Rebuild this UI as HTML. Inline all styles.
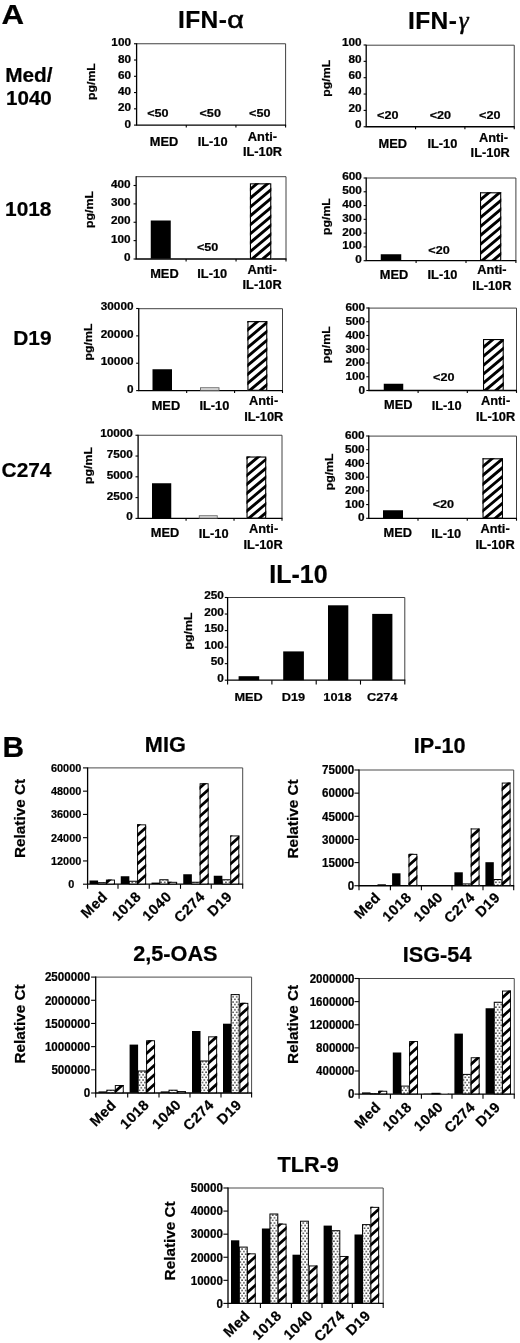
<!DOCTYPE html>
<html><head><meta charset="utf-8"><title>Figure</title>
<style>
html,body{margin:0;padding:0;background:#fff;}
body{width:520px;height:1343px;overflow:hidden;font-family:"Liberation Sans",sans-serif;}
svg{display:block;}
svg text{font-family:"Liberation Sans",sans-serif;font-weight:bold;fill:#050505;stroke:#050505;stroke-width:0.22px;}
</style></head><body>
<svg width="520" height="1343" viewBox="0 0 520 1343">
<rect width="520" height="1343" fill="#fff"/>
<g filter="url(#soft)">
<defs>
<filter id="soft" x="0" y="0" width="520" height="1343" filterUnits="userSpaceOnUse"><feGaussianBlur stdDeviation="0.38"/></filter>
<pattern id="dots" patternUnits="userSpaceOnUse" width="3.6" height="5.2"><rect width="3.6" height="5.2" fill="#fff"/><rect x="0.25" y="0.35" width="1.3" height="1.3" fill="#000"/><rect x="2.05" y="2.95" width="1.3" height="1.3" fill="#000"/></pattern>
</defs>
<text transform="translate(1.6 24.3) scale(1.14 1)" font-size="27.4" text-anchor="start" >A</text>
<text transform="translate(2.6 757.2) scale(1.03 1)" font-size="29" text-anchor="start" >B</text>
<text transform="translate(178 27.5) scale(1.0 1)" font-size="24.5" text-anchor="start" letter-spacing="0.4">IFN-</text>
<text transform="translate(227.3 27.5) scale(1.18 1)" font-size="24.5" text-anchor="start" style="font-weight:normal;stroke-width:0.55px">α</text>
<text transform="translate(408 28.9) scale(1.0 1)" font-size="24.5" text-anchor="start" letter-spacing="0.4">IFN-<tspan font-family="Liberation Serif, serif" font-weight="normal" font-style="italic" font-size="25" dx="1.4" stroke-width="0.5">γ</tspan></text>
<text transform="translate(52.6 81.5) scale(1.04 1)" font-size="20" text-anchor="end" >Med/</text>
<text transform="translate(51.8 104.7) scale(1.0 1)" font-size="20.6" text-anchor="end" >1040</text>
<text transform="translate(51.5 216) scale(1.02 1)" font-size="20.5" text-anchor="end" >1018</text>
<text transform="translate(51.5 344.8) scale(1.02 1)" font-size="20.5" text-anchor="end" >D19</text>
<text transform="translate(51.5 477) scale(1.02 1)" font-size="20.5" text-anchor="end" >C274</text>
<path d="M136.6 43.75H285.6V125.1" fill="none" stroke="#404040" stroke-width="1"/>
<path d="M136.6 43.25V125.1H286.1" fill="none" stroke="#000" stroke-width="1.3"/>
<path d="M134 125.1H136.6" stroke="#000" stroke-width="1.1"/>
<text transform="translate(131 127.68) scale(1.18 1)" font-size="10" text-anchor="end" >0</text>
<path d="M134 108.83H136.6" stroke="#000" stroke-width="1.1"/>
<text transform="translate(131 111.41) scale(1.18 1)" font-size="10" text-anchor="end" >20</text>
<path d="M134 92.56H136.6" stroke="#000" stroke-width="1.1"/>
<text transform="translate(131 95.14) scale(1.18 1)" font-size="10" text-anchor="end" >40</text>
<path d="M134 76.29H136.6" stroke="#000" stroke-width="1.1"/>
<text transform="translate(131 78.87) scale(1.18 1)" font-size="10" text-anchor="end" >60</text>
<path d="M134 60.02H136.6" stroke="#000" stroke-width="1.1"/>
<text transform="translate(131 62.6) scale(1.18 1)" font-size="10" text-anchor="end" >80</text>
<path d="M134 43.75H136.6" stroke="#000" stroke-width="1.1"/>
<text transform="translate(131 46.33) scale(1.18 1)" font-size="10" text-anchor="end" >100</text>
<path d="M186.27 125.1V127.5" stroke="#000" stroke-width="1.1"/>
<path d="M235.93 125.1V127.5" stroke="#000" stroke-width="1.1"/>
<path d="M285.6 125.1V127.5" stroke="#000" stroke-width="1.1"/>
<text transform="translate(157.9 117.4) scale(1.19 1)" font-size="10.6" text-anchor="middle" >&lt;50</text>
<text transform="translate(210.2 117.4) scale(1.19 1)" font-size="10.6" text-anchor="middle" >&lt;50</text>
<text transform="translate(259.75 117.4) scale(1.19 1)" font-size="10.6" text-anchor="middle" >&lt;50</text>
<text transform="translate(164 146.2) scale(1.07 1)" font-size="12" text-anchor="middle" >MED</text>
<text transform="translate(212.6 146.2) scale(1.07 1)" font-size="12" text-anchor="middle" >IL-10</text>
<text transform="translate(262.4 141) scale(1.07 1)" font-size="12" text-anchor="middle" >Anti-</text>
<text transform="translate(262.5 156) scale(1.07 1)" font-size="12" text-anchor="middle" >IL-10R</text>
<text transform="translate(95.3 81.6) rotate(-90) scale(1.17 1)" font-size="10.5" text-anchor="middle">pg/mL</text>
<path d="M366.2 45.2H514.25V126.75" fill="none" stroke="#404040" stroke-width="1"/>
<path d="M366.2 44.7V126.75H514.75" fill="none" stroke="#000" stroke-width="1.3"/>
<path d="M363.6 126.75H366.2" stroke="#000" stroke-width="1.1"/>
<text transform="translate(361.6 128.13) scale(1.18 1)" font-size="10" text-anchor="end" >0</text>
<path d="M363.6 110.4H366.2" stroke="#000" stroke-width="1.1"/>
<text transform="translate(361.6 111.78) scale(1.18 1)" font-size="10" text-anchor="end" >20</text>
<path d="M363.6 94.05H366.2" stroke="#000" stroke-width="1.1"/>
<text transform="translate(361.6 95.43) scale(1.18 1)" font-size="10" text-anchor="end" >40</text>
<path d="M363.6 77.7H366.2" stroke="#000" stroke-width="1.1"/>
<text transform="translate(361.6 79.08) scale(1.18 1)" font-size="10" text-anchor="end" >60</text>
<path d="M363.6 61.35H366.2" stroke="#000" stroke-width="1.1"/>
<text transform="translate(361.6 62.73) scale(1.18 1)" font-size="10" text-anchor="end" >80</text>
<path d="M363.6 45H366.2" stroke="#000" stroke-width="1.1"/>
<text transform="translate(361.6 46.38) scale(1.18 1)" font-size="10" text-anchor="end" >100</text>
<path d="M415.55 126.75V129.15" stroke="#000" stroke-width="1.1"/>
<path d="M464.9 126.75V129.15" stroke="#000" stroke-width="1.1"/>
<path d="M514.25 126.75V129.15" stroke="#000" stroke-width="1.1"/>
<text transform="translate(387.75 118.7) scale(1.19 1)" font-size="10.6" text-anchor="middle" >&lt;20</text>
<text transform="translate(440.4 118.7) scale(1.19 1)" font-size="10.6" text-anchor="middle" >&lt;20</text>
<text transform="translate(489.75 118.7) scale(1.19 1)" font-size="10.6" text-anchor="middle" >&lt;20</text>
<text transform="translate(392.75 148) scale(1.07 1)" font-size="12" text-anchor="middle" >MED</text>
<text transform="translate(442.4 148.2) scale(1.07 1)" font-size="12" text-anchor="middle" >IL-10</text>
<text transform="translate(493.5 141.9) scale(1.07 1)" font-size="12" text-anchor="middle" >Anti-</text>
<text transform="translate(490.2 157.2) scale(1.07 1)" font-size="12" text-anchor="middle" >IL-10R</text>
<text transform="translate(329.8 78.25) rotate(-90) scale(1.17 1)" font-size="10.5" text-anchor="middle">pg/mL</text>
<path d="M136.15 176.7H286V259" fill="none" stroke="#404040" stroke-width="1"/>
<path d="M136.15 176.2V259H286.5" fill="none" stroke="#000" stroke-width="1.3"/>
<path d="M133.55 259H136.15" stroke="#000" stroke-width="1.1"/>
<text transform="translate(130.65 261.18) scale(1.18 1)" font-size="10" text-anchor="end" >0</text>
<path d="M133.55 240.62H136.15" stroke="#000" stroke-width="1.1"/>
<text transform="translate(130.65 242.81) scale(1.18 1)" font-size="10" text-anchor="end" >100</text>
<path d="M133.55 222.25H136.15" stroke="#000" stroke-width="1.1"/>
<text transform="translate(130.65 224.43) scale(1.18 1)" font-size="10" text-anchor="end" >200</text>
<path d="M133.55 203.88H136.15" stroke="#000" stroke-width="1.1"/>
<text transform="translate(130.65 206.06) scale(1.18 1)" font-size="10" text-anchor="end" >300</text>
<path d="M133.55 185.5H136.15" stroke="#000" stroke-width="1.1"/>
<text transform="translate(130.65 187.68) scale(1.18 1)" font-size="10" text-anchor="end" >400</text>
<path d="M186.1 259V261.4" stroke="#000" stroke-width="1.1"/>
<path d="M236.05 259V261.4" stroke="#000" stroke-width="1.1"/>
<path d="M286 259V261.4" stroke="#000" stroke-width="1.1"/>
<rect x="150.75" y="220.5" width="20" height="38.2" fill="#000"/>
<clipPath id="c1"><rect x="249.9" y="183.3" width="21.4" height="75.4"/></clipPath>
<rect x="249.9" y="183.3" width="21.4" height="75.4" fill="#fff"/>
<path clip-path="url(#c1)" d="M248.9 261.6L272.3 241.97M248.9 252.7L272.3 233.07M248.9 243.8L272.3 224.17M248.9 234.9L272.3 215.27M248.9 226L272.3 206.37M248.9 217.1L272.3 197.47M248.9 208.2L272.3 188.57M248.9 199.3L272.3 179.67M248.9 190.4L272.3 170.77M248.9 181.5L272.3 161.87M248.9 270.5L272.3 250.87M248.9 279.4L272.3 259.77" stroke="#000" stroke-width="2.91" fill="none"/>
<rect x="250.45" y="183.85" width="20.3" height="74.85" fill="none" stroke="#000" stroke-width="1.1"/>
<text transform="translate(207.6 251) scale(1.19 1)" font-size="10.6" text-anchor="middle" >&lt;50</text>
<text transform="translate(164.4 278) scale(1.07 1)" font-size="12" text-anchor="middle" >MED</text>
<text transform="translate(212.25 278.4) scale(1.07 1)" font-size="12" text-anchor="middle" >IL-10</text>
<text transform="translate(262.1 273.5) scale(1.07 1)" font-size="12" text-anchor="middle" >Anti-</text>
<text transform="translate(262.1 289) scale(1.07 1)" font-size="12" text-anchor="middle" >IL-10R</text>
<text transform="translate(92.8 209.5) rotate(-90) scale(1.17 1)" font-size="10.5" text-anchor="middle">pg/mL</text>
<path d="M366.2 178H515.9V260.7" fill="none" stroke="#404040" stroke-width="1"/>
<path d="M366.2 177.5V260.7H516.4" fill="none" stroke="#000" stroke-width="1.3"/>
<path d="M363.6 260.7H366.2" stroke="#000" stroke-width="1.1"/>
<text transform="translate(361.9 263.08) scale(1.18 1)" font-size="10" text-anchor="end" >0</text>
<path d="M363.6 246.92H366.2" stroke="#000" stroke-width="1.1"/>
<text transform="translate(361.9 249.3) scale(1.18 1)" font-size="10" text-anchor="end" >100</text>
<path d="M363.6 233.13H366.2" stroke="#000" stroke-width="1.1"/>
<text transform="translate(361.9 235.51) scale(1.18 1)" font-size="10" text-anchor="end" >200</text>
<path d="M363.6 219.35H366.2" stroke="#000" stroke-width="1.1"/>
<text transform="translate(361.9 221.73) scale(1.18 1)" font-size="10" text-anchor="end" >300</text>
<path d="M363.6 205.57H366.2" stroke="#000" stroke-width="1.1"/>
<text transform="translate(361.9 207.95) scale(1.18 1)" font-size="10" text-anchor="end" >400</text>
<path d="M363.6 191.78H366.2" stroke="#000" stroke-width="1.1"/>
<text transform="translate(361.9 194.16) scale(1.18 1)" font-size="10" text-anchor="end" >500</text>
<path d="M363.6 178H366.2" stroke="#000" stroke-width="1.1"/>
<text transform="translate(361.9 180.38) scale(1.18 1)" font-size="10" text-anchor="end" >600</text>
<path d="M416.1 260.7V263.1" stroke="#000" stroke-width="1.1"/>
<path d="M466 260.7V263.1" stroke="#000" stroke-width="1.1"/>
<path d="M515.9 260.7V263.1" stroke="#000" stroke-width="1.1"/>
<rect x="380.75" y="254.25" width="20.5" height="6.15" fill="#000"/>
<clipPath id="c2"><rect x="480" y="192.25" width="21.25" height="68.15"/></clipPath>
<rect x="480" y="192.25" width="21.25" height="68.15" fill="#fff"/>
<path clip-path="url(#c2)" d="M479 263.3L502.25 243.79M479 254.4L502.25 234.89M479 245.5L502.25 225.99M479 236.6L502.25 217.09M479 227.7L502.25 208.19M479 218.8L502.25 199.29M479 209.9L502.25 190.39M479 201L502.25 181.49M479 192.1L502.25 172.59M479 272.2L502.25 252.69M479 281.1L502.25 261.59" stroke="#000" stroke-width="2.91" fill="none"/>
<rect x="480.55" y="192.8" width="20.15" height="67.6" fill="none" stroke="#000" stroke-width="1.1"/>
<text transform="translate(439 253.5) scale(1.19 1)" font-size="10.6" text-anchor="middle" >&lt;20</text>
<text transform="translate(394.1 278.5) scale(1.07 1)" font-size="12" text-anchor="middle" >MED</text>
<text transform="translate(442.5 279) scale(1.07 1)" font-size="12" text-anchor="middle" >IL-10</text>
<text transform="translate(491.9 274) scale(1.07 1)" font-size="12" text-anchor="middle" >Anti-</text>
<text transform="translate(491.9 289.75) scale(1.07 1)" font-size="12" text-anchor="middle" >IL-10R</text>
<text transform="translate(329.5 216.6) rotate(-90) scale(1.17 1)" font-size="10.5" text-anchor="middle">pg/mL</text>
<path d="M138.75 308.7H282.5V390.6" fill="none" stroke="#404040" stroke-width="1"/>
<path d="M138.75 308.2V390.6H283" fill="none" stroke="#000" stroke-width="1.3"/>
<path d="M136.15 390.6H138.75" stroke="#000" stroke-width="1.1"/>
<text transform="translate(133.5 392.58) scale(1.18 1)" font-size="10" text-anchor="end" >0</text>
<path d="M136.15 363.23H138.75" stroke="#000" stroke-width="1.1"/>
<text transform="translate(133.5 365.21) scale(1.18 1)" font-size="10" text-anchor="end" >10000</text>
<path d="M136.15 335.87H138.75" stroke="#000" stroke-width="1.1"/>
<text transform="translate(133.5 337.85) scale(1.18 1)" font-size="10" text-anchor="end" >20000</text>
<path d="M136.15 308.5H138.75" stroke="#000" stroke-width="1.1"/>
<text transform="translate(133.5 310.48) scale(1.18 1)" font-size="10" text-anchor="end" >30000</text>
<path d="M186.67 390.6V393" stroke="#000" stroke-width="1.1"/>
<path d="M234.58 390.6V393" stroke="#000" stroke-width="1.1"/>
<path d="M282.5 390.6V393" stroke="#000" stroke-width="1.1"/>
<rect x="152.5" y="369.25" width="19.5" height="21.05" fill="#000"/>
<rect x="200.5" y="387.75" width="18.5" height="2.55" fill="#e4e4e4" stroke="#666" stroke-width="0.9"/>
<clipPath id="c3"><rect x="247.4" y="321.1" width="19.9" height="69.2"/></clipPath>
<rect x="247.4" y="321.1" width="19.9" height="69.2" fill="#fff"/>
<path clip-path="url(#c3)" d="M246.4 393.2L268.3 374.82M246.4 384.3L268.3 365.92M246.4 375.4L268.3 357.02M246.4 366.5L268.3 348.12M246.4 357.6L268.3 339.22M246.4 348.7L268.3 330.32M246.4 339.8L268.3 321.42M246.4 330.9L268.3 312.52M246.4 322L268.3 303.62M246.4 402.1L268.3 383.72" stroke="#000" stroke-width="2.91" fill="none"/>
<rect x="247.95" y="321.65" width="18.8" height="68.65" fill="none" stroke="#000" stroke-width="1.1"/>
<text transform="translate(165.9 409.75) scale(1.07 1)" font-size="12" text-anchor="middle" >MED</text>
<text transform="translate(214.4 410) scale(1.07 1)" font-size="12" text-anchor="middle" >IL-10</text>
<text transform="translate(263.6 405.25) scale(1.07 1)" font-size="12" text-anchor="middle" >Anti-</text>
<text transform="translate(263.75 421) scale(1.07 1)" font-size="12" text-anchor="middle" >IL-10R</text>
<text transform="translate(92.3 342) rotate(-90) scale(1.17 1)" font-size="10.5" text-anchor="middle">pg/mL</text>
<path d="M368.9 308.1H516.5V390.5" fill="none" stroke="#404040" stroke-width="1"/>
<path d="M368.9 307.6V390.5H517" fill="none" stroke="#000" stroke-width="1.3"/>
<path d="M366.3 390.5H368.9" stroke="#000" stroke-width="1.1"/>
<text transform="translate(365.1 393.78) scale(1.18 1)" font-size="10" text-anchor="end" >0</text>
<path d="M366.3 376.75H368.9" stroke="#000" stroke-width="1.1"/>
<text transform="translate(365.1 380.03) scale(1.18 1)" font-size="10" text-anchor="end" >100</text>
<path d="M366.3 363H368.9" stroke="#000" stroke-width="1.1"/>
<text transform="translate(365.1 366.28) scale(1.18 1)" font-size="10" text-anchor="end" >200</text>
<path d="M366.3 349.25H368.9" stroke="#000" stroke-width="1.1"/>
<text transform="translate(365.1 352.53) scale(1.18 1)" font-size="10" text-anchor="end" >300</text>
<path d="M366.3 335.5H368.9" stroke="#000" stroke-width="1.1"/>
<text transform="translate(365.1 338.78) scale(1.18 1)" font-size="10" text-anchor="end" >400</text>
<path d="M366.3 321.75H368.9" stroke="#000" stroke-width="1.1"/>
<text transform="translate(365.1 325.03) scale(1.18 1)" font-size="10" text-anchor="end" >500</text>
<path d="M366.3 308H368.9" stroke="#000" stroke-width="1.1"/>
<text transform="translate(365.1 311.28) scale(1.18 1)" font-size="10" text-anchor="end" >600</text>
<path d="M418.1 390.5V392.9" stroke="#000" stroke-width="1.1"/>
<path d="M467.3 390.5V392.9" stroke="#000" stroke-width="1.1"/>
<path d="M516.5 390.5V392.9" stroke="#000" stroke-width="1.1"/>
<rect x="383.75" y="383.75" width="19.5" height="6.45" fill="#000"/>
<clipPath id="c4"><rect x="483" y="339" width="20.75" height="51.2"/></clipPath>
<rect x="483" y="339" width="20.75" height="51.2" fill="#fff"/>
<path clip-path="url(#c4)" d="M482 393.1L504.75 374.01M482 384.2L504.75 365.11M482 375.3L504.75 356.21M482 366.4L504.75 347.31M482 357.5L504.75 338.41M482 348.6L504.75 329.51M482 339.7L504.75 320.61M482 402L504.75 382.91M482 410.9L504.75 391.81" stroke="#000" stroke-width="2.91" fill="none"/>
<rect x="483.55" y="339.55" width="19.65" height="50.65" fill="none" stroke="#000" stroke-width="1.1"/>
<text transform="translate(443.75 380.7) scale(1.19 1)" font-size="10.6" text-anchor="middle" >&lt;20</text>
<text transform="translate(398.3 409.25) scale(1.07 1)" font-size="12" text-anchor="middle" >MED</text>
<text transform="translate(446.6 409.75) scale(1.07 1)" font-size="12" text-anchor="middle" >IL-10</text>
<text transform="translate(495.6 404.75) scale(1.07 1)" font-size="12" text-anchor="middle" >Anti-</text>
<text transform="translate(495.6 420.5) scale(1.07 1)" font-size="12" text-anchor="middle" >IL-10R</text>
<text transform="translate(329.8 344.75) rotate(-90) scale(1.17 1)" font-size="10.5" text-anchor="middle">pg/mL</text>
<path d="M138.1 435.25H282V518.4" fill="none" stroke="#404040" stroke-width="1"/>
<path d="M138.1 434.75V518.4H282.5" fill="none" stroke="#000" stroke-width="1.3"/>
<path d="M135.5 518.4H138.1" stroke="#000" stroke-width="1.1"/>
<text transform="translate(132.9 520.48) scale(1.18 1)" font-size="10" text-anchor="end" >0</text>
<path d="M135.5 497.61H138.1" stroke="#000" stroke-width="1.1"/>
<text transform="translate(132.9 499.69) scale(1.18 1)" font-size="10" text-anchor="end" >2500</text>
<path d="M135.5 476.82H138.1" stroke="#000" stroke-width="1.1"/>
<text transform="translate(132.9 478.9) scale(1.18 1)" font-size="10" text-anchor="end" >5000</text>
<path d="M135.5 456.04H138.1" stroke="#000" stroke-width="1.1"/>
<text transform="translate(132.9 458.12) scale(1.18 1)" font-size="10" text-anchor="end" >7500</text>
<path d="M135.5 435.25H138.1" stroke="#000" stroke-width="1.1"/>
<text transform="translate(132.9 437.33) scale(1.18 1)" font-size="10" text-anchor="end" >10000</text>
<path d="M186.07 518.4V520.8" stroke="#000" stroke-width="1.1"/>
<path d="M234.03 518.4V520.8" stroke="#000" stroke-width="1.1"/>
<path d="M282 518.4V520.8" stroke="#000" stroke-width="1.1"/>
<rect x="152" y="483.25" width="19.25" height="34.85" fill="#000"/>
<rect x="199.25" y="515.75" width="18" height="2.35" fill="#e4e4e4" stroke="#666" stroke-width="0.9"/>
<clipPath id="c5"><rect x="246.5" y="456.5" width="19.75" height="61.6"/></clipPath>
<rect x="246.5" y="456.5" width="19.75" height="61.6" fill="#fff"/>
<path clip-path="url(#c5)" d="M245.5 521L267.25 502.75M245.5 512.1L267.25 493.85M245.5 503.2L267.25 484.95M245.5 494.3L267.25 476.05M245.5 485.4L267.25 467.15M245.5 476.5L267.25 458.25M245.5 467.6L267.25 449.35M245.5 458.7L267.25 440.45M245.5 529.9L267.25 511.65" stroke="#000" stroke-width="2.91" fill="none"/>
<rect x="247.05" y="457.05" width="18.65" height="61.05" fill="none" stroke="#000" stroke-width="1.1"/>
<text transform="translate(165 537.25) scale(1.07 1)" font-size="12" text-anchor="middle" >MED</text>
<text transform="translate(213.6 537.75) scale(1.07 1)" font-size="12" text-anchor="middle" >IL-10</text>
<text transform="translate(263.6 533.25) scale(1.07 1)" font-size="12" text-anchor="middle" >Anti-</text>
<text transform="translate(263.1 549) scale(1.07 1)" font-size="12" text-anchor="middle" >IL-10R</text>
<text transform="translate(92.3 465.5) rotate(-90) scale(1.17 1)" font-size="10.5" text-anchor="middle">pg/mL</text>
<path d="M368.75 436.1H516.5V518.3" fill="none" stroke="#404040" stroke-width="1"/>
<path d="M368.75 435.6V518.3H517" fill="none" stroke="#000" stroke-width="1.3"/>
<path d="M366.15 518.3H368.75" stroke="#000" stroke-width="1.1"/>
<text transform="translate(364.65 521.48) scale(1.18 1)" font-size="10" text-anchor="end" >0</text>
<path d="M366.15 504.58H368.75" stroke="#000" stroke-width="1.1"/>
<text transform="translate(364.65 507.76) scale(1.18 1)" font-size="10" text-anchor="end" >100</text>
<path d="M366.15 490.87H368.75" stroke="#000" stroke-width="1.1"/>
<text transform="translate(364.65 494.05) scale(1.18 1)" font-size="10" text-anchor="end" >200</text>
<path d="M366.15 477.15H368.75" stroke="#000" stroke-width="1.1"/>
<text transform="translate(364.65 480.33) scale(1.18 1)" font-size="10" text-anchor="end" >300</text>
<path d="M366.15 463.43H368.75" stroke="#000" stroke-width="1.1"/>
<text transform="translate(364.65 466.61) scale(1.18 1)" font-size="10" text-anchor="end" >400</text>
<path d="M366.15 449.72H368.75" stroke="#000" stroke-width="1.1"/>
<text transform="translate(364.65 452.9) scale(1.18 1)" font-size="10" text-anchor="end" >500</text>
<path d="M366.15 436H368.75" stroke="#000" stroke-width="1.1"/>
<text transform="translate(364.65 439.18) scale(1.18 1)" font-size="10" text-anchor="end" >600</text>
<path d="M418 518.3V520.7" stroke="#000" stroke-width="1.1"/>
<path d="M467.25 518.3V520.7" stroke="#000" stroke-width="1.1"/>
<path d="M516.5 518.3V520.7" stroke="#000" stroke-width="1.1"/>
<rect x="383" y="510.25" width="20" height="7.75" fill="#000"/>
<clipPath id="c6"><rect x="482.5" y="458.25" width="20.5" height="59.75"/></clipPath>
<rect x="482.5" y="458.25" width="20.5" height="59.75" fill="#fff"/>
<path clip-path="url(#c6)" d="M481.5 520.9L504 502.02M481.5 512L504 493.12M481.5 503.1L504 484.22M481.5 494.2L504 475.32M481.5 485.3L504 466.42M481.5 476.4L504 457.52M481.5 467.5L504 448.62M481.5 458.6L504 439.72M481.5 529.8L504 510.92M481.5 538.7L504 519.82" stroke="#000" stroke-width="2.91" fill="none"/>
<rect x="483.05" y="458.8" width="19.4" height="59.2" fill="none" stroke="#000" stroke-width="1.1"/>
<text transform="translate(443.4 508.4) scale(1.19 1)" font-size="10.6" text-anchor="middle" >&lt;20</text>
<text transform="translate(397.7 537.25) scale(1.07 1)" font-size="12" text-anchor="middle" >MED</text>
<text transform="translate(446.25 537.75) scale(1.07 1)" font-size="12" text-anchor="middle" >IL-10</text>
<text transform="translate(495.1 532.75) scale(1.07 1)" font-size="12" text-anchor="middle" >Anti-</text>
<text transform="translate(495.1 548.5) scale(1.07 1)" font-size="12" text-anchor="middle" >IL-10R</text>
<text transform="translate(332.8 471.9) rotate(-90) scale(1.17 1)" font-size="10.5" text-anchor="middle">pg/mL</text>
<text transform="translate(298.5 582.5) scale(1.0 1)" font-size="25" text-anchor="middle" >IL-10</text>
<path d="M227.6 597.5H404.8V680.2" fill="none" stroke="#404040" stroke-width="1"/>
<path d="M227.6 597V680.2H405.3" fill="none" stroke="#000" stroke-width="1.3"/>
<path d="M224.8 680.2H227.6" stroke="#000" stroke-width="1.1"/>
<text transform="translate(223.9 681.68) scale(1.18 1)" font-size="10" text-anchor="end" >0</text>
<path d="M224.8 663.66H227.6" stroke="#000" stroke-width="1.1"/>
<text transform="translate(223.9 665.14) scale(1.18 1)" font-size="10" text-anchor="end" >50</text>
<path d="M224.8 647.12H227.6" stroke="#000" stroke-width="1.1"/>
<text transform="translate(223.9 648.6) scale(1.18 1)" font-size="10" text-anchor="end" >100</text>
<path d="M224.8 630.58H227.6" stroke="#000" stroke-width="1.1"/>
<text transform="translate(223.9 632.06) scale(1.18 1)" font-size="10" text-anchor="end" >150</text>
<path d="M224.8 614.04H227.6" stroke="#000" stroke-width="1.1"/>
<text transform="translate(223.9 615.52) scale(1.18 1)" font-size="10" text-anchor="end" >200</text>
<path d="M224.8 597.5H227.6" stroke="#000" stroke-width="1.1"/>
<text transform="translate(223.9 598.98) scale(1.18 1)" font-size="10" text-anchor="end" >250</text>
<path d="M227.6 680.2V684.6" stroke="#000" stroke-width="1.1"/>
<path d="M271.9 680.2V684.6" stroke="#000" stroke-width="1.1"/>
<path d="M316.2 680.2V684.6" stroke="#000" stroke-width="1.1"/>
<path d="M360.5 680.2V684.6" stroke="#000" stroke-width="1.1"/>
<path d="M404.8 680.2V684.6" stroke="#000" stroke-width="1.1"/>
<rect x="238.6" y="676.2" width="20.6" height="4" fill="#000"/>
<rect x="283.2" y="651.4" width="20.7" height="28.8" fill="#000"/>
<rect x="328" y="605.3" width="20.3" height="74.9" fill="#000"/>
<rect x="372.2" y="613.9" width="20.2" height="66.3" fill="#000"/>
<text transform="translate(248.6 701) scale(1.08 1)" font-size="11.8" text-anchor="middle" >MED</text>
<text transform="translate(293.5 701) scale(1.08 1)" font-size="11.8" text-anchor="middle" >D19</text>
<text transform="translate(337.5 701) scale(1.08 1)" font-size="11.8" text-anchor="middle" >1018</text>
<text transform="translate(382.3 701) scale(1.08 1)" font-size="11.8" text-anchor="middle" >C274</text>
<text transform="translate(191.5 631) rotate(-90) scale(1.17 1)" font-size="10.5" text-anchor="middle">pg/mL</text>
<text transform="translate(165.3 751.5) scale(1.0 1)" font-size="21.7" text-anchor="middle" >MIG</text>
<path d="M87.6 767.9H242.7V884.2" fill="none" stroke="#4a4a4a" stroke-width="1"/>
<path d="M87.6 767.4V884.2H243.2" fill="none" stroke="#000" stroke-width="1.3"/>
<path d="M83 860.94H87.6" stroke="#000" stroke-width="1.1"/>
<text transform="translate(81.3 864.99) scale(0.965 1)" font-size="11.3" text-anchor="end" >12000</text>
<path d="M83 837.68H87.6" stroke="#000" stroke-width="1.1"/>
<text transform="translate(81.3 841.73) scale(0.965 1)" font-size="11.3" text-anchor="end" >24000</text>
<path d="M83 814.42H87.6" stroke="#000" stroke-width="1.1"/>
<text transform="translate(81.3 818.47) scale(0.965 1)" font-size="11.3" text-anchor="end" >36000</text>
<path d="M83 791.16H87.6" stroke="#000" stroke-width="1.1"/>
<text transform="translate(81.3 795.21) scale(0.965 1)" font-size="11.3" text-anchor="end" >48000</text>
<path d="M83 767.9H87.6" stroke="#000" stroke-width="1.1"/>
<text transform="translate(81.3 771.95) scale(0.965 1)" font-size="11.3" text-anchor="end" >60000</text>
<path d="M83 884.2H87.6" stroke="#000" stroke-width="1.1"/>
<text transform="translate(74.2 888.25) scale(0.965 1)" font-size="11.3" text-anchor="end" >0</text>
<path d="M87.6 884.2V888.8" stroke="#000" stroke-width="1.1"/>
<path d="M118 884.2V888.8" stroke="#000" stroke-width="1.1"/>
<path d="M149.25 884.2V888.8" stroke="#000" stroke-width="1.1"/>
<path d="M180.5 884.2V888.8" stroke="#000" stroke-width="1.1"/>
<path d="M211.25 884.2V888.8" stroke="#000" stroke-width="1.1"/>
<path d="M242.7 884.2V888.8" stroke="#000" stroke-width="1.1"/>
<rect x="89.5" y="880.5" width="8.6" height="3.5" fill="#000"/>
<rect x="97.95" y="882.7" width="8.15" height="1.3" fill="url(#dots)" stroke="#000" stroke-width="1"/>
<clipPath id="c7"><rect x="105.85" y="879.5" width="9.15" height="4.5"/></clipPath>
<rect x="105.85" y="879.5" width="9.15" height="4.5" fill="#fff"/>
<path clip-path="url(#c7)" d="M104.85 884L116 873.96M104.85 874.5L116 864.46M104.85 893.5L116 883.46" stroke="#000" stroke-width="2.82" fill="none"/>
<rect x="106.4" y="880.05" width="8.05" height="3.95" fill="none" stroke="#000" stroke-width="0.95"/>
<rect x="120.75" y="876.25" width="8.6" height="7.75" fill="#000"/>
<rect x="129.2" y="881.25" width="8.15" height="2.75" fill="url(#dots)" stroke="#000" stroke-width="1"/>
<clipPath id="c8"><rect x="137.05" y="824.3" width="9.15" height="59.7"/></clipPath>
<rect x="137.05" y="824.3" width="9.15" height="59.7" fill="#fff"/>
<path clip-path="url(#c8)" d="M136.05 884L147.2 873.96M136.05 874.5L147.2 864.46M136.05 865L147.2 854.96M136.05 855.5L147.2 845.46M136.05 846L147.2 835.96M136.05 836.5L147.2 826.46M136.05 827L147.2 816.96M136.05 893.5L147.2 883.46" stroke="#000" stroke-width="2.82" fill="none"/>
<rect x="137.6" y="824.85" width="8.05" height="59.15" fill="none" stroke="#000" stroke-width="0.95"/>
<rect x="151.5" y="882.6" width="8.6" height="1.4" fill="#000"/>
<rect x="159.85" y="879.75" width="8.15" height="4.25" fill="url(#dots)" stroke="#000" stroke-width="1"/>
<clipPath id="c9"><rect x="168.05" y="881.75" width="9.15" height="2.25"/></clipPath>
<rect x="168.05" y="881.75" width="9.15" height="2.25" fill="#fff"/>
<path clip-path="url(#c9)" d="M167.05 884L178.2 873.96M167.05 893.5L178.2 883.46" stroke="#000" stroke-width="2.82" fill="none"/>
<rect x="168.6" y="882.3" width="8.05" height="1.7" fill="none" stroke="#000" stroke-width="0.95"/>
<rect x="183.25" y="874.25" width="8.6" height="9.75" fill="#000"/>
<rect x="191.7" y="882.25" width="8.15" height="1.75" fill="url(#dots)" stroke="#000" stroke-width="1"/>
<clipPath id="c10"><rect x="199.55" y="783.2" width="9.15" height="100.8"/></clipPath>
<rect x="199.55" y="783.2" width="9.15" height="100.8" fill="#fff"/>
<path clip-path="url(#c10)" d="M198.55 884L209.7 873.96M198.55 874.5L209.7 864.46M198.55 865L209.7 854.96M198.55 855.5L209.7 845.46M198.55 846L209.7 835.96M198.55 836.5L209.7 826.46M198.55 827L209.7 816.96M198.55 817.5L209.7 807.46M198.55 808L209.7 797.96M198.55 798.5L209.7 788.46M198.55 789L209.7 778.96M198.55 779.5L209.7 769.46M198.55 893.5L209.7 883.46" stroke="#000" stroke-width="2.82" fill="none"/>
<rect x="200.1" y="783.75" width="8.05" height="100.25" fill="none" stroke="#000" stroke-width="0.95"/>
<rect x="213.75" y="875.75" width="8.6" height="8.25" fill="#000"/>
<rect x="222.25" y="879.75" width="8.15" height="4.25" fill="url(#dots)" stroke="#000" stroke-width="1"/>
<clipPath id="c11"><rect x="230.2" y="835.4" width="9.15" height="48.6"/></clipPath>
<rect x="230.2" y="835.4" width="9.15" height="48.6" fill="#fff"/>
<path clip-path="url(#c11)" d="M229.2 884L240.35 873.96M229.2 874.5L240.35 864.46M229.2 865L240.35 854.96M229.2 855.5L240.35 845.46M229.2 846L240.35 835.96M229.2 836.5L240.35 826.46M229.2 893.5L240.35 883.46" stroke="#000" stroke-width="2.82" fill="none"/>
<rect x="230.75" y="835.95" width="8.05" height="48.05" fill="none" stroke="#000" stroke-width="0.95"/>
<text transform="translate(25.2 818.5) rotate(-90) scale(1.02 1)" font-size="15" text-anchor="middle">Relative Ct</text>
<text transform="translate(108.3 897.6) rotate(-45) scale(1.0 1)" font-size="14.5" text-anchor="end" letter-spacing="0.45">Med</text>
<text transform="translate(142.05 897.6) rotate(-45) scale(1.0 1)" font-size="14.5" text-anchor="end" letter-spacing="0.45">1018</text>
<text transform="translate(172.4 897.6) rotate(-45) scale(1.0 1)" font-size="14.5" text-anchor="end" letter-spacing="0.45">1040</text>
<text transform="translate(205.8 897.6) rotate(-45) scale(1.0 1)" font-size="14.5" text-anchor="end" letter-spacing="0.45">C274</text>
<text transform="translate(233 897.6) rotate(-45) scale(1.0 1)" font-size="14.5" text-anchor="end" letter-spacing="0.45">D19</text>
<text transform="translate(439.75 752.5) scale(1.0 1)" font-size="21.7" text-anchor="middle" >IP-10</text>
<path d="M359 770H513.7V885.75" fill="none" stroke="#4a4a4a" stroke-width="1"/>
<path d="M359 769.5V885.75H514.2" fill="none" stroke="#000" stroke-width="1.3"/>
<path d="M354.4 862.6H359" stroke="#000" stroke-width="1.1"/>
<text transform="translate(354.3 866.9) scale(0.97 1)" font-size="12" text-anchor="end" >15000</text>
<path d="M354.4 839.45H359" stroke="#000" stroke-width="1.1"/>
<text transform="translate(354.3 843.75) scale(0.97 1)" font-size="12" text-anchor="end" >30000</text>
<path d="M354.4 816.3H359" stroke="#000" stroke-width="1.1"/>
<text transform="translate(354.3 820.6) scale(0.97 1)" font-size="12" text-anchor="end" >45000</text>
<path d="M354.4 793.15H359" stroke="#000" stroke-width="1.1"/>
<text transform="translate(354.3 797.45) scale(0.97 1)" font-size="12" text-anchor="end" >60000</text>
<path d="M354.4 770H359" stroke="#000" stroke-width="1.1"/>
<text transform="translate(354.3 774.3) scale(0.97 1)" font-size="12" text-anchor="end" >75000</text>
<path d="M354.4 885.75H359" stroke="#000" stroke-width="1.1"/>
<text transform="translate(354.3 890.05) scale(0.97 1)" font-size="12" text-anchor="end" >0</text>
<path d="M359 885.75V890.35" stroke="#000" stroke-width="1.1"/>
<path d="M390.4 885.75V890.35" stroke="#000" stroke-width="1.1"/>
<path d="M421.4 885.75V890.35" stroke="#000" stroke-width="1.1"/>
<path d="M452 885.75V890.35" stroke="#000" stroke-width="1.1"/>
<path d="M483 885.75V890.35" stroke="#000" stroke-width="1.1"/>
<path d="M513.7 885.75V890.35" stroke="#000" stroke-width="1.1"/>
<rect x="377.5" y="884.3" width="8.4" height="1.25" fill="#000"/>
<rect x="392.1" y="873.3" width="8.4" height="12.25" fill="#000"/>
<clipPath id="c12"><rect x="408.45" y="853.8" width="8.95" height="31.75"/></clipPath>
<rect x="408.45" y="853.8" width="8.95" height="31.75" fill="#fff"/>
<path clip-path="url(#c12)" d="M407.45 885.55L418.4 875.69M407.45 876.05L418.4 866.19M407.45 866.55L418.4 856.69M407.45 857.05L418.4 847.19M407.45 895.05L418.4 885.19" stroke="#000" stroke-width="2.82" fill="none"/>
<rect x="409" y="854.35" width="7.85" height="31.2" fill="none" stroke="#000" stroke-width="0.95"/>
<rect x="454.4" y="872.3" width="8.4" height="13.25" fill="#000"/>
<rect x="462.75" y="883.9" width="7.95" height="1.65" fill="url(#dots)" stroke="#000" stroke-width="1"/>
<clipPath id="c13"><rect x="470.65" y="828.4" width="8.95" height="57.15"/></clipPath>
<rect x="470.65" y="828.4" width="8.95" height="57.15" fill="#fff"/>
<path clip-path="url(#c13)" d="M469.65 885.55L480.6 875.69M469.65 876.05L480.6 866.19M469.65 866.55L480.6 856.69M469.65 857.05L480.6 847.19M469.65 847.55L480.6 837.69M469.65 838.05L480.6 828.19M469.65 828.55L480.6 818.69M469.65 895.05L480.6 885.19" stroke="#000" stroke-width="2.82" fill="none"/>
<rect x="471.2" y="828.95" width="7.85" height="56.6" fill="none" stroke="#000" stroke-width="0.95"/>
<rect x="485.4" y="862.2" width="8.4" height="23.35" fill="#000"/>
<rect x="493.75" y="879.5" width="7.95" height="6.05" fill="url(#dots)" stroke="#000" stroke-width="1"/>
<clipPath id="c14"><rect x="501.65" y="782.5" width="8.95" height="103.05"/></clipPath>
<rect x="501.65" y="782.5" width="8.95" height="103.05" fill="#fff"/>
<path clip-path="url(#c14)" d="M500.65 885.55L511.6 875.69M500.65 876.05L511.6 866.19M500.65 866.55L511.6 856.69M500.65 857.05L511.6 847.19M500.65 847.55L511.6 837.69M500.65 838.05L511.6 828.19M500.65 828.55L511.6 818.69M500.65 819.05L511.6 809.19M500.65 809.55L511.6 799.69M500.65 800.05L511.6 790.19M500.65 790.55L511.6 780.69M500.65 781.05L511.6 771.19M500.65 895.05L511.6 885.19" stroke="#000" stroke-width="2.82" fill="none"/>
<rect x="502.2" y="783.05" width="7.85" height="102.5" fill="none" stroke="#000" stroke-width="0.95"/>
<text transform="translate(297.5 819) rotate(-90) scale(1.02 1)" font-size="15" text-anchor="middle">Relative Ct</text>
<text transform="translate(381.4 898.3) rotate(-45) scale(1.0 1)" font-size="14.5" text-anchor="end" letter-spacing="0.45">Med</text>
<text transform="translate(412.4 898.3) rotate(-45) scale(1.0 1)" font-size="14.5" text-anchor="end" letter-spacing="0.45">1018</text>
<text transform="translate(443.7 898.3) rotate(-45) scale(1.0 1)" font-size="14.5" text-anchor="end" letter-spacing="0.45">1040</text>
<text transform="translate(475.7 898.3) rotate(-45) scale(1.0 1)" font-size="14.5" text-anchor="end" letter-spacing="0.45">C274</text>
<text transform="translate(500.9 898.3) rotate(-45) scale(1.0 1)" font-size="14.5" text-anchor="end" letter-spacing="0.45">D19</text>
<text transform="translate(175.4 961.2) scale(1.0 1)" font-size="21.7" text-anchor="middle" >2,5-OAS</text>
<path d="M95.7 977.1H251.6V1093" fill="none" stroke="#4a4a4a" stroke-width="1"/>
<path d="M95.7 976.6V1093H252.1" fill="none" stroke="#000" stroke-width="1.3"/>
<path d="M91.1 1069.82H95.7" stroke="#000" stroke-width="1.1"/>
<text transform="translate(90.2 1074.12) scale(0.97 1)" font-size="12" text-anchor="end" >500000</text>
<path d="M91.1 1046.64H95.7" stroke="#000" stroke-width="1.1"/>
<text transform="translate(90.2 1050.94) scale(0.97 1)" font-size="12" text-anchor="end" >1000000</text>
<path d="M91.1 1023.46H95.7" stroke="#000" stroke-width="1.1"/>
<text transform="translate(90.2 1027.76) scale(0.97 1)" font-size="12" text-anchor="end" >1500000</text>
<path d="M91.1 1000.28H95.7" stroke="#000" stroke-width="1.1"/>
<text transform="translate(90.2 1004.58) scale(0.97 1)" font-size="12" text-anchor="end" >2000000</text>
<path d="M91.1 977.1H95.7" stroke="#000" stroke-width="1.1"/>
<text transform="translate(90.2 981.4) scale(0.97 1)" font-size="12" text-anchor="end" >2500000</text>
<path d="M91.1 1093H95.7" stroke="#000" stroke-width="1.1"/>
<text transform="translate(90.2 1097.3) scale(0.97 1)" font-size="12" text-anchor="end" >0</text>
<path d="M95.7 1093V1097.6" stroke="#000" stroke-width="1.1"/>
<path d="M127.7 1093V1097.6" stroke="#000" stroke-width="1.1"/>
<path d="M159 1093V1097.6" stroke="#000" stroke-width="1.1"/>
<path d="M190 1093V1097.6" stroke="#000" stroke-width="1.1"/>
<path d="M221 1093V1097.6" stroke="#000" stroke-width="1.1"/>
<path d="M251.6 1093V1097.6" stroke="#000" stroke-width="1.1"/>
<rect x="98.5" y="1091.4" width="8.5" height="1.4" fill="#000"/>
<rect x="106.85" y="1090.2" width="8.05" height="2.6" fill="url(#dots)" stroke="#000" stroke-width="1"/>
<clipPath id="c15"><rect x="114.75" y="1085" width="9.05" height="7.8"/></clipPath>
<rect x="114.75" y="1085" width="9.05" height="7.8" fill="#fff"/>
<path clip-path="url(#c15)" d="M113.75 1092.8L124.8 1082.85M113.75 1083.3L124.8 1073.35M113.75 1102.3L124.8 1092.35" stroke="#000" stroke-width="2.82" fill="none"/>
<rect x="115.3" y="1085.55" width="7.95" height="7.25" fill="none" stroke="#000" stroke-width="0.95"/>
<rect x="129.6" y="1044.6" width="8.5" height="48.2" fill="#000"/>
<rect x="138.15" y="1071" width="8.05" height="21.8" fill="url(#dots)" stroke="#000" stroke-width="1"/>
<clipPath id="c16"><rect x="146.05" y="1040.2" width="9.05" height="52.6"/></clipPath>
<rect x="146.05" y="1040.2" width="9.05" height="52.6" fill="#fff"/>
<path clip-path="url(#c16)" d="M145.05 1092.8L156.1 1082.85M145.05 1083.3L156.1 1073.35M145.05 1073.8L156.1 1063.85M145.05 1064.3L156.1 1054.35M145.05 1054.8L156.1 1044.85M145.05 1045.3L156.1 1035.35M145.05 1035.8L156.1 1025.85M145.05 1102.3L156.1 1092.35" stroke="#000" stroke-width="2.82" fill="none"/>
<rect x="146.6" y="1040.75" width="7.95" height="52.05" fill="none" stroke="#000" stroke-width="0.95"/>
<rect x="160.7" y="1091.4" width="8.5" height="1.4" fill="#000"/>
<rect x="169.05" y="1090.2" width="8.05" height="2.6" fill="url(#dots)" stroke="#000" stroke-width="1"/>
<clipPath id="c17"><rect x="176.95" y="1091" width="9.05" height="1.8"/></clipPath>
<rect x="176.95" y="1091" width="9.05" height="1.8" fill="#fff"/>
<path clip-path="url(#c17)" d="M175.95 1092.8L187 1082.85M175.95 1102.3L187 1092.35" stroke="#000" stroke-width="2.82" fill="none"/>
<rect x="177.5" y="1091.55" width="7.95" height="1.25" fill="none" stroke="#000" stroke-width="0.95"/>
<rect x="192" y="1031" width="8.5" height="61.8" fill="#000"/>
<rect x="200.55" y="1061" width="8.05" height="31.8" fill="url(#dots)" stroke="#000" stroke-width="1"/>
<clipPath id="c18"><rect x="208.15" y="1036.3" width="9.05" height="56.5"/></clipPath>
<rect x="208.15" y="1036.3" width="9.05" height="56.5" fill="#fff"/>
<path clip-path="url(#c18)" d="M207.15 1092.8L218.2 1082.85M207.15 1083.3L218.2 1073.35M207.15 1073.8L218.2 1063.85M207.15 1064.3L218.2 1054.35M207.15 1054.8L218.2 1044.85M207.15 1045.3L218.2 1035.35M207.15 1035.8L218.2 1025.85M207.15 1102.3L218.2 1092.35" stroke="#000" stroke-width="2.82" fill="none"/>
<rect x="208.7" y="1036.85" width="7.95" height="55.95" fill="none" stroke="#000" stroke-width="0.95"/>
<rect x="223" y="1023.7" width="8.5" height="69.1" fill="#000"/>
<rect x="231.15" y="994.6" width="8.05" height="98.2" fill="url(#dots)" stroke="#000" stroke-width="1"/>
<clipPath id="c19"><rect x="239.35" y="1002.8" width="9.05" height="90"/></clipPath>
<rect x="239.35" y="1002.8" width="9.05" height="90" fill="#fff"/>
<path clip-path="url(#c19)" d="M238.35 1092.8L249.4 1082.85M238.35 1083.3L249.4 1073.35M238.35 1073.8L249.4 1063.85M238.35 1064.3L249.4 1054.35M238.35 1054.8L249.4 1044.85M238.35 1045.3L249.4 1035.35M238.35 1035.8L249.4 1025.85M238.35 1026.3L249.4 1016.35M238.35 1016.8L249.4 1006.85M238.35 1007.3L249.4 997.35M238.35 997.8L249.4 987.85M238.35 1102.3L249.4 1092.35" stroke="#000" stroke-width="2.82" fill="none"/>
<rect x="239.9" y="1003.35" width="7.95" height="89.45" fill="none" stroke="#000" stroke-width="0.95"/>
<text transform="translate(25.2 1024) rotate(-90) scale(1.02 1)" font-size="15" text-anchor="middle">Relative Ct</text>
<text transform="translate(117.1 1105.8) rotate(-45) scale(1.0 1)" font-size="14.5" text-anchor="end" letter-spacing="0.45">Med</text>
<text transform="translate(150.1 1105.8) rotate(-45) scale(1.0 1)" font-size="14.5" text-anchor="end" letter-spacing="0.45">1018</text>
<text transform="translate(182 1105.8) rotate(-45) scale(1.0 1)" font-size="14.5" text-anchor="end" letter-spacing="0.45">1040</text>
<text transform="translate(214.7 1105.8) rotate(-45) scale(1.0 1)" font-size="14.5" text-anchor="end" letter-spacing="0.45">C274</text>
<text transform="translate(242.6 1105.8) rotate(-45) scale(1.0 1)" font-size="14.5" text-anchor="end" letter-spacing="0.45">D19</text>
<text transform="translate(437.1 962) scale(1.0 1)" font-size="21.7" text-anchor="middle" >ISG-54</text>
<path d="M359.1 978.5H514.25V1094.1" fill="none" stroke="#4a4a4a" stroke-width="1"/>
<path d="M359.1 978V1094.1H514.75" fill="none" stroke="#000" stroke-width="1.3"/>
<path d="M354.5 1070.98H359.1" stroke="#000" stroke-width="1.1"/>
<text transform="translate(354.5 1075.28) scale(0.96 1)" font-size="12" text-anchor="end" >400000</text>
<path d="M354.5 1047.86H359.1" stroke="#000" stroke-width="1.1"/>
<text transform="translate(354.5 1052.16) scale(0.96 1)" font-size="12" text-anchor="end" >800000</text>
<path d="M354.5 1024.74H359.1" stroke="#000" stroke-width="1.1"/>
<text transform="translate(354.5 1029.04) scale(0.96 1)" font-size="12" text-anchor="end" >1200000</text>
<path d="M354.5 1001.62H359.1" stroke="#000" stroke-width="1.1"/>
<text transform="translate(354.5 1005.92) scale(0.96 1)" font-size="12" text-anchor="end" >1600000</text>
<path d="M354.5 978.5H359.1" stroke="#000" stroke-width="1.1"/>
<text transform="translate(354.5 982.8) scale(0.96 1)" font-size="12" text-anchor="end" >2000000</text>
<path d="M354.5 1094.1H359.1" stroke="#000" stroke-width="1.1"/>
<text transform="translate(354.5 1098.4) scale(0.96 1)" font-size="12" text-anchor="end" >0</text>
<path d="M359.1 1094.1V1098.7" stroke="#000" stroke-width="1.1"/>
<path d="M390.4 1094.1V1098.7" stroke="#000" stroke-width="1.1"/>
<path d="M421.4 1094.1V1098.7" stroke="#000" stroke-width="1.1"/>
<path d="M452 1094.1V1098.7" stroke="#000" stroke-width="1.1"/>
<path d="M483 1094.1V1098.7" stroke="#000" stroke-width="1.1"/>
<path d="M514.25 1094.1V1098.7" stroke="#000" stroke-width="1.1"/>
<rect x="362" y="1092.4" width="8.5" height="1.5" fill="#000"/>
<rect x="370.35" y="1093.7" width="8.05" height="0.2" fill="url(#dots)" stroke="#000" stroke-width="1"/>
<clipPath id="c20"><rect x="378.25" y="1090.7" width="9.05" height="3.2"/></clipPath>
<rect x="378.25" y="1090.7" width="9.05" height="3.2" fill="#fff"/>
<path clip-path="url(#c20)" d="M377.25 1093.9L388.3 1083.95M377.25 1103.4L388.3 1093.45" stroke="#000" stroke-width="2.82" fill="none"/>
<rect x="378.8" y="1091.25" width="7.95" height="2.65" fill="none" stroke="#000" stroke-width="0.95"/>
<rect x="392.8" y="1052.5" width="8.5" height="41.4" fill="#000"/>
<rect x="401.15" y="1086.1" width="8.05" height="7.8" fill="url(#dots)" stroke="#000" stroke-width="1"/>
<clipPath id="c21"><rect x="409.05" y="1041" width="9.05" height="52.9"/></clipPath>
<rect x="409.05" y="1041" width="9.05" height="52.9" fill="#fff"/>
<path clip-path="url(#c21)" d="M408.05 1093.9L419.1 1083.95M408.05 1084.4L419.1 1074.45M408.05 1074.9L419.1 1064.95M408.05 1065.4L419.1 1055.45M408.05 1055.9L419.1 1045.95M408.05 1046.4L419.1 1036.45M408.05 1036.9L419.1 1026.95M408.05 1103.4L419.1 1093.45" stroke="#000" stroke-width="2.82" fill="none"/>
<rect x="409.6" y="1041.55" width="7.95" height="52.35" fill="none" stroke="#000" stroke-width="0.95"/>
<rect x="423.5" y="1093.6" width="8.5" height="0.3" fill="#000"/>
<rect x="431.95" y="1093.3" width="8.05" height="0.6" fill="url(#dots)" stroke="#000" stroke-width="1"/>
<clipPath id="c22"><rect x="439.85" y="1093.6" width="9.05" height="0.3"/></clipPath>
<rect x="439.85" y="1093.6" width="9.05" height="0.3" fill="#fff"/>
<path clip-path="url(#c22)" d="M438.85 1093.9L449.9 1083.95M438.85 1103.4L449.9 1093.45" stroke="#000" stroke-width="2.82" fill="none"/>
<rect x="440.4" y="1094.15" width="7.95" height="-0.25" fill="none" stroke="#000" stroke-width="0.95"/>
<rect x="454.4" y="1033.6" width="8.5" height="60.3" fill="#000"/>
<rect x="462.75" y="1074.4" width="8.05" height="19.5" fill="url(#dots)" stroke="#000" stroke-width="1"/>
<clipPath id="c23"><rect x="470.65" y="1057.2" width="9.05" height="36.7"/></clipPath>
<rect x="470.65" y="1057.2" width="9.05" height="36.7" fill="#fff"/>
<path clip-path="url(#c23)" d="M469.65 1093.9L480.7 1083.95M469.65 1084.4L480.7 1074.45M469.65 1074.9L480.7 1064.95M469.65 1065.4L480.7 1055.45M469.65 1055.9L480.7 1045.95M469.65 1103.4L480.7 1093.45" stroke="#000" stroke-width="2.82" fill="none"/>
<rect x="471.2" y="1057.75" width="7.95" height="36.15" fill="none" stroke="#000" stroke-width="0.95"/>
<rect x="485.6" y="1008.25" width="8.5" height="85.65" fill="#000"/>
<rect x="494.25" y="1002.25" width="8.05" height="91.65" fill="url(#dots)" stroke="#000" stroke-width="1"/>
<clipPath id="c24"><rect x="501.95" y="990.5" width="9.05" height="103.4"/></clipPath>
<rect x="501.95" y="990.5" width="9.05" height="103.4" fill="#fff"/>
<path clip-path="url(#c24)" d="M500.95 1093.9L512 1083.95M500.95 1084.4L512 1074.45M500.95 1074.9L512 1064.95M500.95 1065.4L512 1055.45M500.95 1055.9L512 1045.95M500.95 1046.4L512 1036.45M500.95 1036.9L512 1026.95M500.95 1027.4L512 1017.45M500.95 1017.9L512 1007.95M500.95 1008.4L512 998.45M500.95 998.9L512 988.95M500.95 989.4L512 979.45M500.95 1103.4L512 1093.45" stroke="#000" stroke-width="2.82" fill="none"/>
<rect x="502.5" y="991.05" width="7.95" height="102.85" fill="none" stroke="#000" stroke-width="0.95"/>
<text transform="translate(297.5 1024.4) rotate(-90) scale(1.02 1)" font-size="15" text-anchor="middle">Relative Ct</text>
<text transform="translate(381.65 1108) rotate(-45) scale(1.0 1)" font-size="14.5" text-anchor="end" letter-spacing="0.45">Med</text>
<text transform="translate(412.65 1108) rotate(-45) scale(1.0 1)" font-size="14.5" text-anchor="end" letter-spacing="0.45">1018</text>
<text transform="translate(443.95 1108) rotate(-45) scale(1.0 1)" font-size="14.5" text-anchor="end" letter-spacing="0.45">1040</text>
<text transform="translate(475.95 1108) rotate(-45) scale(1.0 1)" font-size="14.5" text-anchor="end" letter-spacing="0.45">C274</text>
<text transform="translate(501.15 1108) rotate(-45) scale(1.0 1)" font-size="14.5" text-anchor="end" letter-spacing="0.45">D19</text>
<text transform="translate(308.2 1172.2) scale(1.0 1)" font-size="21.7" text-anchor="middle" >TLR-9</text>
<path d="M228 1188H383.2V1303.4" fill="none" stroke="#4a4a4a" stroke-width="1"/>
<path d="M228 1187.5V1303.4H383.7" fill="none" stroke="#000" stroke-width="1.3"/>
<path d="M223.4 1280.32H228" stroke="#000" stroke-width="1.1"/>
<text transform="translate(222.9 1284.62) scale(0.965 1)" font-size="12" text-anchor="end" >10000</text>
<path d="M223.4 1257.24H228" stroke="#000" stroke-width="1.1"/>
<text transform="translate(222.9 1261.54) scale(0.965 1)" font-size="12" text-anchor="end" >20000</text>
<path d="M223.4 1234.16H228" stroke="#000" stroke-width="1.1"/>
<text transform="translate(222.9 1238.46) scale(0.965 1)" font-size="12" text-anchor="end" >30000</text>
<path d="M223.4 1211.08H228" stroke="#000" stroke-width="1.1"/>
<text transform="translate(222.9 1215.38) scale(0.965 1)" font-size="12" text-anchor="end" >40000</text>
<path d="M223.4 1188H228" stroke="#000" stroke-width="1.1"/>
<text transform="translate(222.9 1192.3) scale(0.965 1)" font-size="12" text-anchor="end" >50000</text>
<path d="M223.4 1303.4H228" stroke="#000" stroke-width="1.1"/>
<text transform="translate(222.9 1307.7) scale(0.965 1)" font-size="12" text-anchor="end" >0</text>
<path d="M228 1303.4V1308" stroke="#000" stroke-width="1.1"/>
<path d="M260.4 1303.4V1308" stroke="#000" stroke-width="1.1"/>
<path d="M291.4 1303.4V1308" stroke="#000" stroke-width="1.1"/>
<path d="M322 1303.4V1308" stroke="#000" stroke-width="1.1"/>
<path d="M352.3 1303.4V1308" stroke="#000" stroke-width="1.1"/>
<path d="M383.2 1303.4V1308" stroke="#000" stroke-width="1.1"/>
<rect x="231" y="1240.3" width="8.3" height="62.9" fill="#000"/>
<rect x="239.35" y="1247.1" width="7.85" height="56.1" fill="url(#dots)" stroke="#000" stroke-width="1"/>
<clipPath id="c25"><rect x="246.95" y="1253.3" width="8.85" height="49.9"/></clipPath>
<rect x="246.95" y="1253.3" width="8.85" height="49.9" fill="#fff"/>
<path clip-path="url(#c25)" d="M245.95 1303.2L256.8 1293.43M245.95 1293.7L256.8 1283.93M245.95 1284.2L256.8 1274.43M245.95 1274.7L256.8 1264.93M245.95 1265.2L256.8 1255.43M245.95 1255.7L256.8 1245.93M245.95 1312.7L256.8 1302.93" stroke="#000" stroke-width="2.82" fill="none"/>
<rect x="247.5" y="1253.85" width="7.75" height="49.35" fill="none" stroke="#000" stroke-width="0.95"/>
<rect x="261.9" y="1228.5" width="8.3" height="74.7" fill="#000"/>
<rect x="269.95" y="1214" width="7.85" height="89.2" fill="url(#dots)" stroke="#000" stroke-width="1"/>
<clipPath id="c26"><rect x="277.75" y="1223.6" width="8.85" height="79.6"/></clipPath>
<rect x="277.75" y="1223.6" width="8.85" height="79.6" fill="#fff"/>
<path clip-path="url(#c26)" d="M276.75 1303.2L287.6 1293.43M276.75 1293.7L287.6 1283.93M276.75 1284.2L287.6 1274.43M276.75 1274.7L287.6 1264.93M276.75 1265.2L287.6 1255.43M276.75 1255.7L287.6 1245.93M276.75 1246.2L287.6 1236.43M276.75 1236.7L287.6 1226.93M276.75 1227.2L287.6 1217.43M276.75 1312.7L287.6 1302.93" stroke="#000" stroke-width="2.82" fill="none"/>
<rect x="278.3" y="1224.15" width="7.75" height="79.05" fill="none" stroke="#000" stroke-width="0.95"/>
<rect x="292.5" y="1254.7" width="8.3" height="48.5" fill="#000"/>
<rect x="300.55" y="1221.2" width="7.85" height="82" fill="url(#dots)" stroke="#000" stroke-width="1"/>
<clipPath id="c27"><rect x="308.65" y="1265.4" width="8.85" height="37.8"/></clipPath>
<rect x="308.65" y="1265.4" width="8.85" height="37.8" fill="#fff"/>
<path clip-path="url(#c27)" d="M307.65 1303.2L318.5 1293.43M307.65 1293.7L318.5 1283.93M307.65 1284.2L318.5 1274.43M307.65 1274.7L318.5 1264.93M307.65 1265.2L318.5 1255.43M307.65 1312.7L318.5 1302.93" stroke="#000" stroke-width="2.82" fill="none"/>
<rect x="309.2" y="1265.95" width="7.75" height="37.25" fill="none" stroke="#000" stroke-width="0.95"/>
<rect x="323.6" y="1225.6" width="8.3" height="77.6" fill="#000"/>
<rect x="331.95" y="1230.7" width="7.85" height="72.5" fill="url(#dots)" stroke="#000" stroke-width="1"/>
<clipPath id="c28"><rect x="339.55" y="1255.9" width="8.85" height="47.3"/></clipPath>
<rect x="339.55" y="1255.9" width="8.85" height="47.3" fill="#fff"/>
<path clip-path="url(#c28)" d="M338.55 1303.2L349.4 1293.43M338.55 1293.7L349.4 1283.93M338.55 1284.2L349.4 1274.43M338.55 1274.7L349.4 1264.93M338.55 1265.2L349.4 1255.43M338.55 1255.7L349.4 1245.93M338.55 1312.7L349.4 1302.93" stroke="#000" stroke-width="2.82" fill="none"/>
<rect x="340.1" y="1256.45" width="7.75" height="46.75" fill="none" stroke="#000" stroke-width="0.95"/>
<rect x="354.5" y="1234.5" width="8.3" height="68.7" fill="#000"/>
<rect x="362.55" y="1224.6" width="7.85" height="78.6" fill="url(#dots)" stroke="#000" stroke-width="1"/>
<clipPath id="c29"><rect x="370.35" y="1206.8" width="8.85" height="96.4"/></clipPath>
<rect x="370.35" y="1206.8" width="8.85" height="96.4" fill="#fff"/>
<path clip-path="url(#c29)" d="M369.35 1303.2L380.2 1293.43M369.35 1293.7L380.2 1283.93M369.35 1284.2L380.2 1274.43M369.35 1274.7L380.2 1264.93M369.35 1265.2L380.2 1255.43M369.35 1255.7L380.2 1245.93M369.35 1246.2L380.2 1236.43M369.35 1236.7L380.2 1226.93M369.35 1227.2L380.2 1217.43M369.35 1217.7L380.2 1207.93M369.35 1208.2L380.2 1198.43M369.35 1312.7L380.2 1302.93" stroke="#000" stroke-width="2.82" fill="none"/>
<rect x="370.9" y="1207.35" width="7.75" height="95.85" fill="none" stroke="#000" stroke-width="0.95"/>
<text transform="translate(175.2 1240.9) rotate(-90) scale(1.02 1)" font-size="15" text-anchor="middle">Relative Ct</text>
<text transform="translate(250.8 1316.6) rotate(-45) scale(1.0 1)" font-size="14.5" text-anchor="end" letter-spacing="0.45">Med</text>
<text transform="translate(282.4 1316.6) rotate(-45) scale(1.0 1)" font-size="14.5" text-anchor="end" letter-spacing="0.45">1018</text>
<text transform="translate(313.7 1316.6) rotate(-45) scale(1.0 1)" font-size="14.5" text-anchor="end" letter-spacing="0.45">1040</text>
<text transform="translate(345.7 1316.6) rotate(-45) scale(1.0 1)" font-size="14.5" text-anchor="end" letter-spacing="0.45">C274</text>
<text transform="translate(371.6 1316.6) rotate(-45) scale(1.0 1)" font-size="14.5" text-anchor="end" letter-spacing="0.45">D19</text>
</g>
</svg>
</body></html>
